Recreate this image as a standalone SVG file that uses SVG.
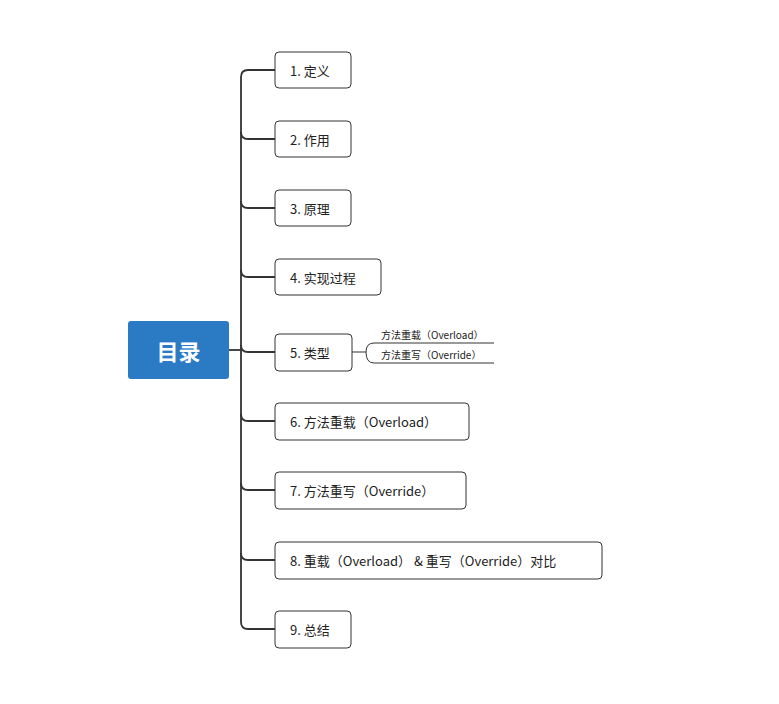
<svg xmlns="http://www.w3.org/2000/svg" width="779" height="704" viewBox="0 0 779 704">
<style>
.n{fill:#fff;stroke:#333;stroke-width:1}
.t{font-family:"Noto Sans CJK SC","Noto Sans",sans-serif;font-size:13px;fill:#222;dominant-baseline:central}
.s{font-family:"Noto Sans CJK SC","Noto Sans",sans-serif;font-size:10px;fill:#222}
.c{fill:none;stroke:#333;stroke-width:1.8}
</style>
<rect width="779" height="704" fill="#fff"/>
<g id="connectors">
<path class="c" d="M229 350H241"/>
<path class="c" d="M275 70H248Q241 70 241 77V622Q241 629 248 629H275"/>
<path class="c" d="M241 132Q241 139 248 139H275M241 201Q241 208 248 208H275M241 270Q241 277 248 277H275M241 345Q241 352 248 352H275M241 414Q241 421 248 421H275M241 483Q241 490 248 490H275M241 553Q241 560 248 560H275"/>
<path fill="none" stroke="#333" stroke-width="1" d="M352 352H366M366 352Q366 343 374 343H494M366 352Q366 363 374 363H494"/>
</g>
<g id="root"><rect x="128" y="321" width="101" height="58" rx="3" fill="#2a7bc4"/><text x="178.5" y="350" text-anchor="middle" dominant-baseline="central" font-family="Noto Sans CJK SC,sans-serif" font-size="22" font-weight="bold" fill="#fff">目录</text></g>
<g id="n1"><rect class="n" x="275" y="52" width="76" height="36" rx="4"/><text class="t" x="290" y="70">1. 定义</text></g>
<g id="n2"><rect class="n" x="275" y="121" width="76" height="36" rx="4"/><text class="t" x="290" y="139">2. 作用</text></g>
<g id="n3"><rect class="n" x="275" y="190" width="76" height="36" rx="4"/><text class="t" x="290" y="208">3. 原理</text></g>
<g id="n4"><rect class="n" x="275" y="259" width="106" height="36" rx="4"/><text class="t" x="290" y="277">4. 实现过程</text></g>
<g id="n5"><rect class="n" x="275" y="334" width="77" height="37" rx="4"/><text class="t" x="290" y="352">5. 类型</text></g>
<g id="n5a"><text class="s" x="381" y="339">方法重载（Overload）</text></g>
<g id="n5b"><text class="s" x="381" y="359">方法重写（Override）</text></g>
<g id="n6"><rect class="n" x="275" y="403" width="194" height="37" rx="4"/><text class="t" x="290" y="421">6. 方法重载（Overload）</text></g>
<g id="n7"><rect class="n" x="275" y="472" width="191" height="37" rx="4"/><text class="t" x="290" y="490">7. 方法重写（Override）</text></g>
<g id="n8"><rect class="n" x="275" y="542" width="327" height="37" rx="4"/><text class="t" x="290" y="560">8. 重载（Overload） &amp; 重写（Override）对比</text></g>
<g id="n9"><rect class="n" x="275" y="611" width="76" height="37" rx="4"/><text class="t" x="290" y="629">9. 总结</text></g>
</svg>
